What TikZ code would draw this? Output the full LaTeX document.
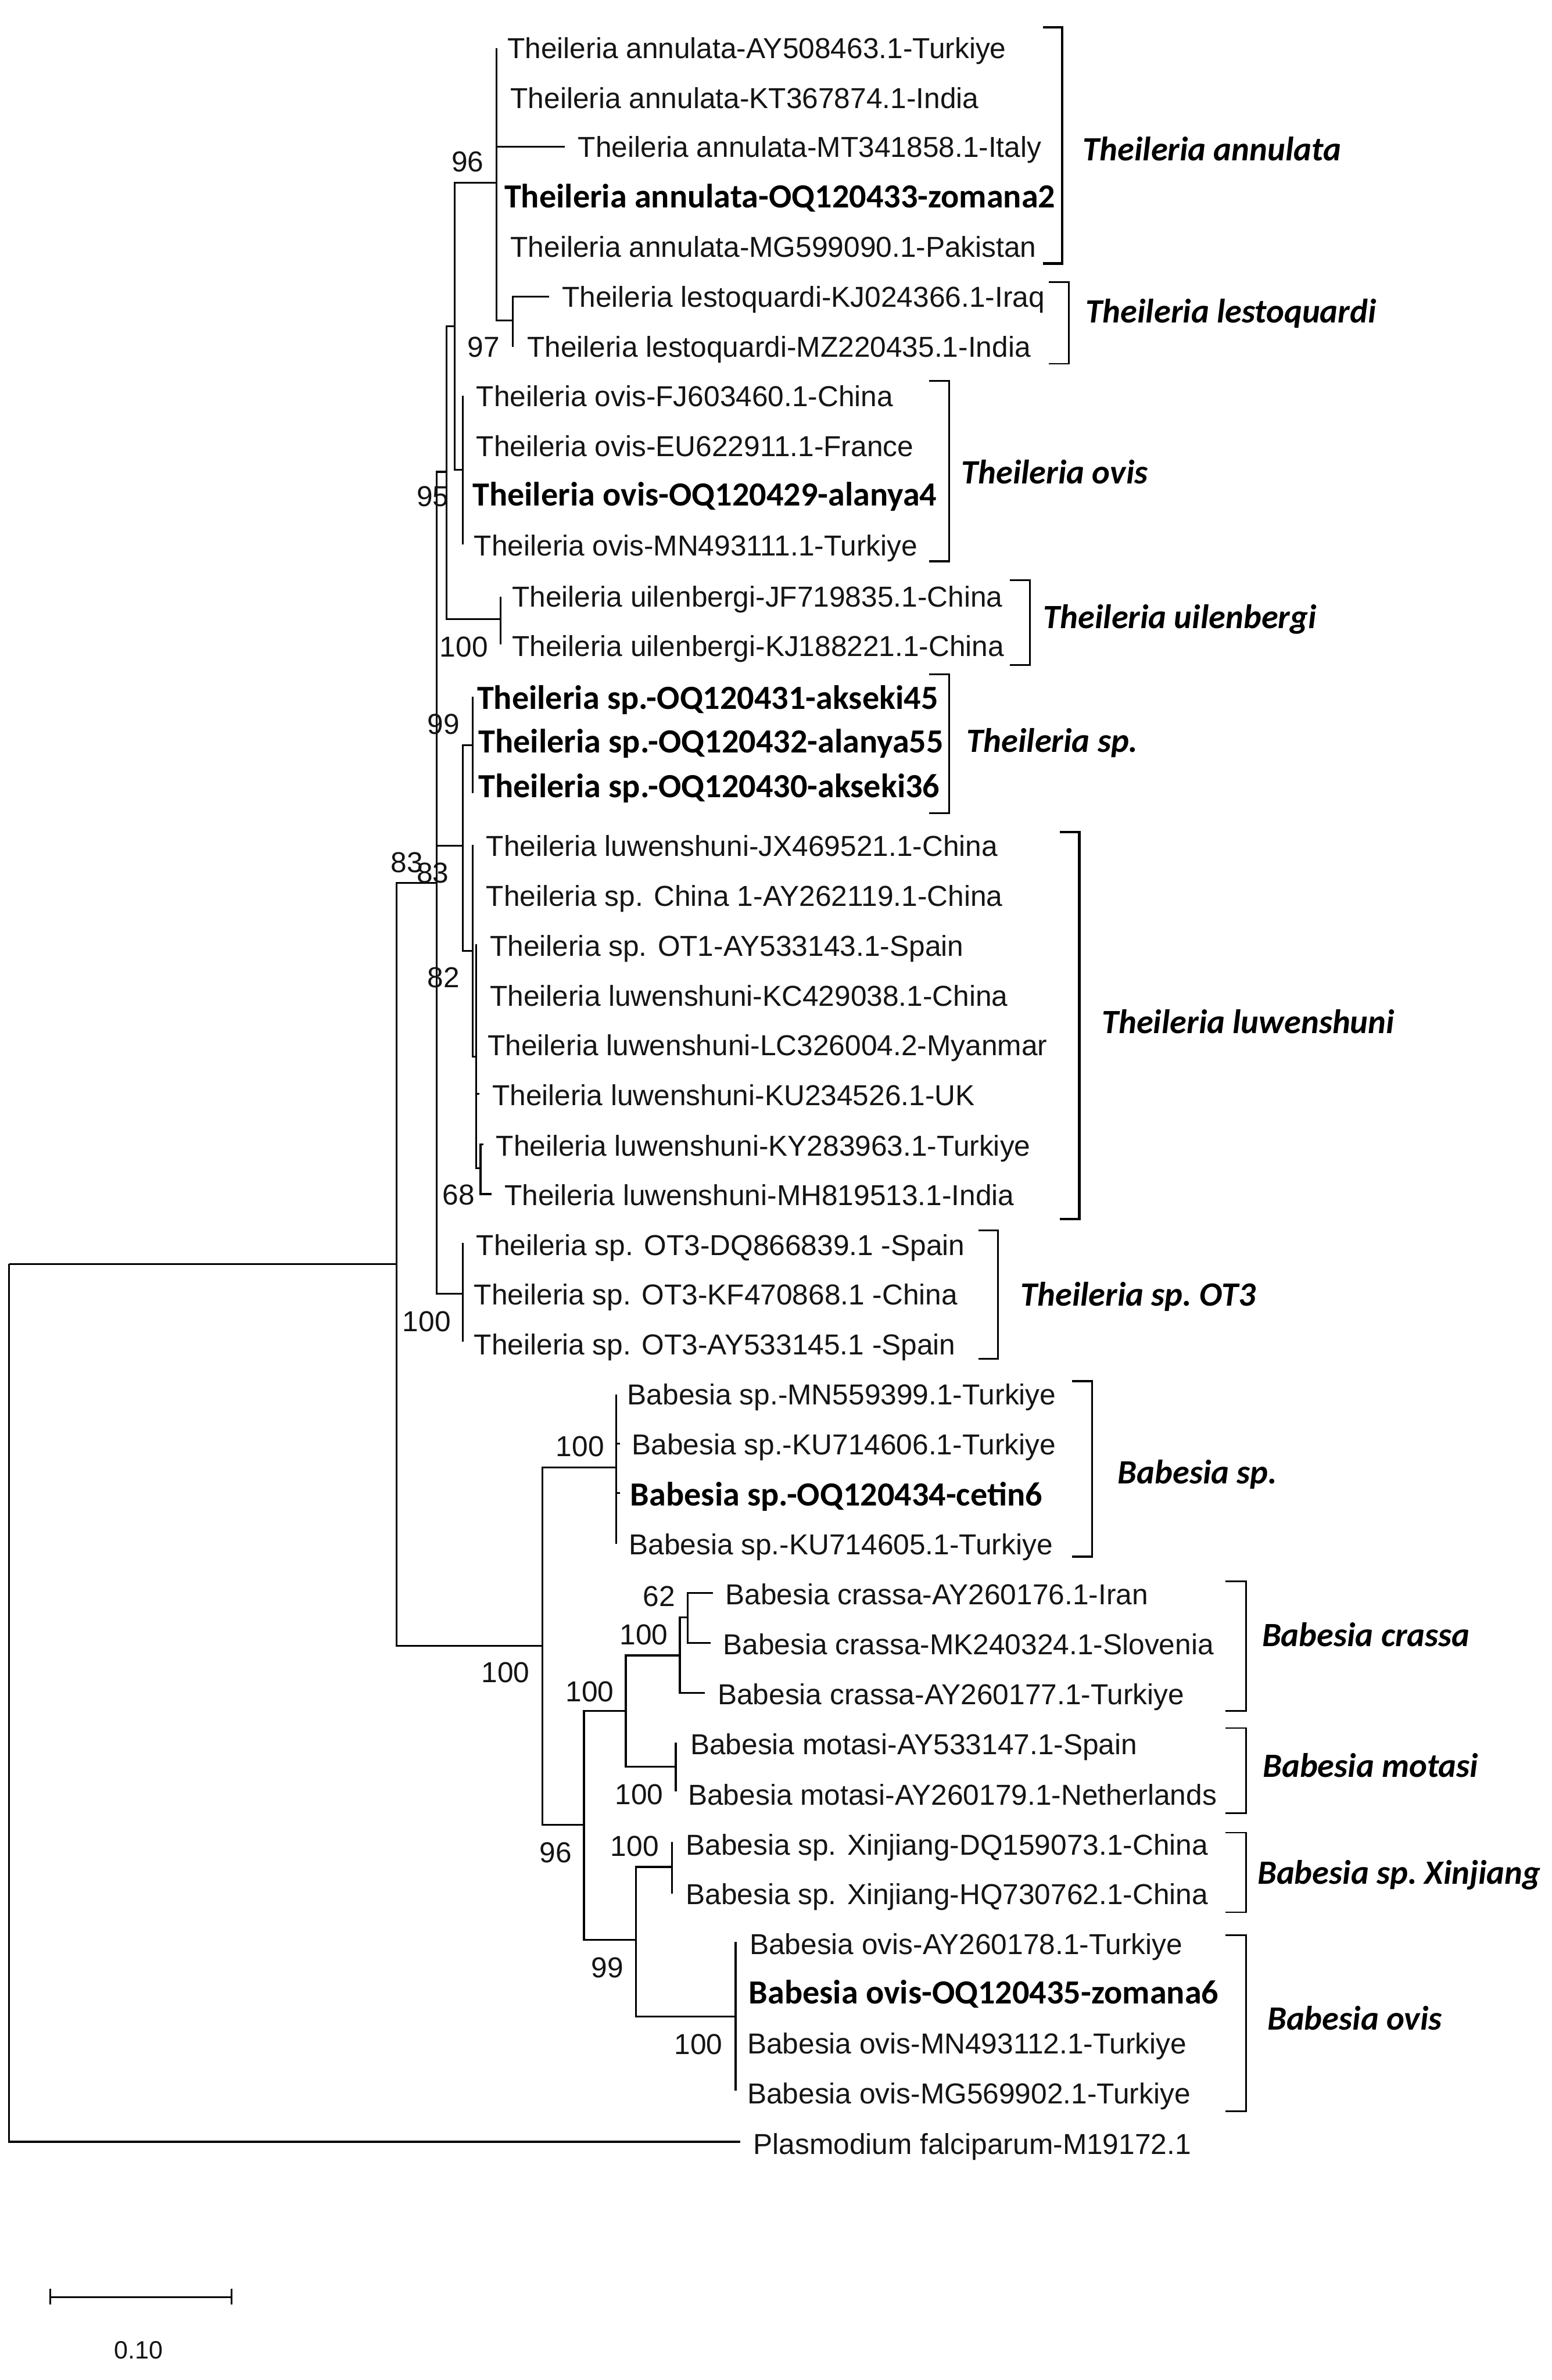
\documentclass[tikz,border=0pt]{standalone}
\usepackage{fontspec}
\setmainfont{Liberation Sans}
\newfontfamily\calib{Carlito}
\begin{document}
\begin{tikzpicture}[x=1pt,y=-1pt,
  edge/.style={draw=black,line width=1.25pt,line join=miter},
  leaf/.style={anchor=base west,inner sep=0pt,yshift=-6.7pt,text=black!92,font=\fontsize{19}{22}\selectfont},
  boldleaf/.style={anchor=base west,inner sep=0pt,yshift=-7.2pt,text=black,font=\calib\bfseries\fontsize{22.27}{26}\selectfont},
  grouplabel/.style={anchor=base west,inner sep=0pt,yshift=-7pt,text=black,font=\frenchspacing\calib\bfseries\itshape\fontsize{22.4}{26}\selectfont},
  support/.style={anchor=center,inner sep=0pt,text=black!92,font=\fontsize{19}{22}\selectfont},
  bracket/.style={draw=black,line width=#1,line join=miter},
  bracket/.default=1.1pt]
\useasboundingbox (0,0) rectangle (1022,1567.5);
% internal tree nodes
\coordinate (r) at (6,832.4);
\coordinate (A) at (261.3,832.4);
\coordinate (T) at (287.7,581.6);
\coordinate (TA) at (294.2,310.7);
\coordinate (TB) at (299.5,215);
\coordinate (An) at (327.1,120.4);
\coordinate (Les) at (337.6,211.1);
\coordinate (Ov) at (304.7,309.5);
\coordinate (Uil) at (329.6,407.8);
\coordinate (TC) at (304.7,557.1);
\coordinate (Tsa) at (311.3,490.8);
\coordinate (Lu) at (311.3,626.3);
\coordinate (LuB) at (313.6,695.9);
\coordinate (LuC) at (316.5,769.5);
\coordinate (Ot) at (304.7,852);
\coordinate (B) at (357.3,1083.9);
\coordinate (Bsp) at (405.8,966.5);
\coordinate (C) at (384.6,1201.7);
\coordinate (D) at (412.2,1126.9);
\coordinate (F) at (447.7,1090.3);
\coordinate (G) at (453,1065.1);
\coordinate (Mo) at (445.1,1163.5);
\coordinate (E) at (418.8,1277.6);
\coordinate (Xi) at (442.6,1229.6);
\coordinate (Bo) at (484.5,1328);
% branch tips
\coordinate (e1) at (327.1,31.6);
\coordinate (e3) at (372,96.7);
\coordinate (e6) at (361.6,195.4);
\coordinate (e7) at (337.6,228.3);
\coordinate (e8) at (304.7,260.6);
\coordinate (e11) at (304.7,358.5);
\coordinate (e12) at (329.6,393);
\coordinate (e13) at (329.6,424.3);
\coordinate (e14) at (311.3,458.8);
\coordinate (e16) at (311.3,522.3);
\coordinate (e17) at (311.3,556.4);
\coordinate (e19) at (313.6,622);
\coordinate (e22) at (315.9,720.4);
\coordinate (e23) at (318.3,753.6);
\coordinate (e24) at (323.6,786.4);
\coordinate (e25) at (304.7,818.7);
\coordinate (e27) at (304.7,883.8);
\coordinate (e28) at (405.8,918.6);
\coordinate (e29) at (408.2,950.7);
\coordinate (e30) at (408.2,983.4);
\coordinate (e31) at (405.8,1016.7);
\coordinate (e32) at (469.4,1049);
\coordinate (e33) at (468.1,1082);
\coordinate (e34) at (464.1,1115);
\coordinate (e35) at (445.1,1147.6);
\coordinate (e36) at (445.1,1180);
\coordinate (e37) at (442.6,1213);
\coordinate (e38) at (442.6,1247);
\coordinate (e39) at (484.5,1279);
\coordinate (e42) at (484.5,1377);
\coordinate (e43) at (487.7,1410.6);
% branches
\draw[edge] (r) |- (A);
\draw[edge] (r) |- (e43);
\draw[edge] (A) |- (T);
\draw[edge] (A) |- (B);
\draw[edge] (T) |- (TA);
\draw[edge] (T) |- (TC);
\draw[edge] (T) |- (Ot);
\draw[edge] (TA) |- (TB);
\draw[edge] (TA) |- (Uil);
\draw[edge] (TB) |- (An);
\draw[edge] (TB) |- (Ov);
\draw[edge] (An) |- (e1);
\draw[edge] (An) |- (e3);
\draw[edge] (An) |- (Les);
\draw[edge] (Les) |- (e6);
\draw[edge] (Les) |- (e7);
\draw[edge] (Ov) |- (e8);
\draw[edge] (Ov) |- (e11);
\draw[edge] (Uil) |- (e12);
\draw[edge] (Uil) |- (e13);
\draw[edge] (TC) |- (Tsa);
\draw[edge] (TC) |- (Lu);
\draw[edge] (Tsa) |- (e14);
\draw[edge] (Tsa) |- (e16);
\draw[edge] (Lu) |- (e17);
\draw[edge] (Lu) |- (LuB);
\draw[edge] (LuB) |- (e19);
\draw[edge] (LuB) |- (e22);
\draw[edge] (LuB) |- (LuC);
\draw[edge] (LuC) |- (e23);
\draw[edge] (LuC) |- (e24);
\draw[edge] (Ot) |- (e25);
\draw[edge] (Ot) |- (e27);
\draw[edge] (B) |- (Bsp);
\draw[edge] (B) |- (C);
\draw[edge] (Bsp) |- (e28);
\draw[edge] (Bsp) |- (e29);
\draw[edge] (Bsp) |- (e30);
\draw[edge] (Bsp) |- (e31);
\draw[edge] (C) |- (D);
\draw[edge] (C) |- (E);
\draw[edge] (D) |- (F);
\draw[edge] (D) |- (Mo);
\draw[edge] (F) |- (G);
\draw[edge] (F) |- (e34);
\draw[edge] (G) |- (e32);
\draw[edge] (G) |- (e33);
\draw[edge] (Mo) |- (e35);
\draw[edge] (Mo) |- (e36);
\draw[edge] (E) |- (Xi);
\draw[edge] (E) |- (Bo);
\draw[edge] (Xi) |- (e37);
\draw[edge] (Xi) |- (e38);
\draw[edge] (Bo) |- (e39);
\draw[edge] (Bo) |- (e42);
% leaf labels
\node[leaf] (t1) at (334,31.6) {Theileria annulata-AY508463.1-Turkiye};
\node[leaf] (t2) at (336,64.5) {Theileria annulata-KT367874.1-India};
\node[leaf] (t3) at (380.5,97) {Theileria annulata-MT341858.1-Italy};
\node[boldleaf] (t4) at (332,129.8) {Theileria annulata-OQ120433-zomana2};
\node[leaf] (t5) at (336,162.5) {Theileria annulata-MG599090.1-Pakistan};
\node[leaf] (t6) at (370,195.5) {Theileria lestoquardi-KJ024366.1-Iraq};
\node[leaf] (t7) at (347,228.5) {Theileria lestoquardi-MZ220435.1-India};
\node[leaf] (t8) at (313.5,261) {Theileria ovis-FJ603460.1-China};
\node[leaf] (t9) at (313.5,294) {Theileria ovis-EU622911.1-France};
\node[boldleaf] (t10) at (311,326) {Theileria ovis-OQ120429-alanya4};
\node[leaf] (t11) at (312,359.5) {Theileria ovis-MN493111.1-Turkiye};
\node[leaf] (t12) at (337,393) {Theileria uilenbergi-JF719835.1-China};
\node[leaf] (t13) at (337,425.5) {Theileria uilenbergi-KJ188221.1-China};
\node[boldleaf] (t14) at (314,460) {Theileria sp.-OQ120431-akseki45};
\node[boldleaf] (t15) at (315,488.5) {Theileria sp.-OQ120432-alanya55};
\node[boldleaf] (t16) at (315,518) {Theileria sp.-OQ120430-akseki36};
\node[leaf] (t17) at (320,557) {Theileria luwenshuni-JX469521.1-China};
\node[leaf] (t18) at (320,590) {Theileria sp. China 1-AY262119.1-China};
\node[leaf] (t19) at (322.5,623) {Theileria sp. OT1-AY533143.1-Spain};
\node[leaf] (t20) at (322.5,656) {Theileria luwenshuni-KC429038.1-China};
\node[leaf] (t21) at (321,688.5) {Theileria luwenshuni-LC326004.2-Myanmar};
\node[leaf] (t22) at (324,721.5) {Theileria luwenshuni-KU234526.1-UK};
\node[leaf] (t23) at (326.5,754.5) {Theileria luwenshuni-KY283963.1-Turkiye};
\node[leaf] (t24) at (332,787) {Theileria luwenshuni-MH819513.1-India};
\node[leaf] (t25) at (313.5,820) {Theileria sp. OT3-DQ866839.1 -Spain};
\node[leaf] (t26) at (312,852.5) {Theileria sp. OT3-KF470868.1 -China};
\node[leaf] (t27) at (312,885.5) {Theileria sp. OT3-AY533145.1 -Spain};
\node[leaf] (t28) at (413,918.5) {Babesia sp.-MN559399.1-Turkiye};
\node[leaf] (t29) at (416,951.5) {Babesia sp.-KU714606.1-Turkiye};
\node[boldleaf] (t30) at (415,984.5) {Babesia sp.-OQ120434-cetin6};
\node[leaf] (t31) at (414,1017) {Babesia sp.-KU714605.1-Turkiye};
\node[leaf] (t32) at (477.5,1050) {Babesia crassa-AY260176.1-Iran};
\node[leaf] (t33) at (476,1083) {Babesia crassa-MK240324.1-Slovenia};
\node[leaf] (t34) at (472.5,1116) {Babesia crassa-AY260177.1-Turkiye};
\node[leaf] (t35) at (454.5,1149) {Babesia motasi-AY533147.1-Spain};
\node[leaf] (t36) at (453,1182) {Babesia motasi-AY260179.1-Netherlands};
\node[leaf] (t37) at (451.5,1215) {Babesia sp. Xinjiang-DQ159073.1-China};
\node[leaf] (t38) at (451.5,1247.5) {Babesia sp. Xinjiang-HQ730762.1-China};
\node[leaf] (t39) at (493.5,1280.5) {Babesia ovis-AY260178.1-Turkiye};
\node[boldleaf] (t40) at (493,1312.5) {Babesia ovis-OQ120435-zomana6};
\node[leaf] (t41) at (492,1346) {Babesia ovis-MN493112.1-Turkiye};
\node[leaf] (t42) at (492,1379) {Babesia ovis-MG569902.1-Turkiye};
\node[leaf] (t43) at (496,1412) {Plasmodium falciparum-M19172.1};
% support values
\node[support] (s1) at (308,106.5) {96};
\node[support] (s2) at (318.5,228.5) {97};
\node[support] (s3) at (285,327) {95};
\node[support] (s4) at (305.5,426) {100};
\node[support] (s5) at (292,477) {99};
\node[support] (s6) at (268,568) {83};
\node[support] (s7) at (285,575) {83};
\node[support] (s8) at (292,644) {82};
\node[support] (s9) at (302,787) {68};
\node[support] (s10) at (281,870.5) {100};
\node[support] (s11) at (382,952.5) {100};
\node[support] (s12) at (434,1051.5) {62};
\node[support] (s13) at (424,1076.5) {100};
\node[support] (s14) at (333,1101.5) {100};
\node[support] (s15) at (388.5,1114) {100};
\node[support] (s16) at (366,1220) {96};
\node[support] (s17) at (421,1182) {100};
\node[support] (s18) at (418,1216) {100};
\node[support] (s19) at (400,1296) {99};
\node[support] (s20) at (460,1346.5) {100};
% clade brackets
\draw[bracket=1.7pt] (687,18) -- (699.6,18) -- (699.6,173.6) -- (687,173.6);
\draw[bracket=0.9pt] (690.6,185.8) -- (704,185.8) -- (704,239.6) -- (690.6,239.6);
\draw[bracket=1.3pt] (612,250.9) -- (625,250.9) -- (625,369.7) -- (612,369.7);
\draw[bracket=1.0pt] (665,382) -- (678.3,382) -- (678.3,438) -- (665,438);
\draw[bracket=1.3pt] (612,444) -- (625,444) -- (625,535.5) -- (612,535.5);
\draw[bracket=1.7pt] (698.2,548) -- (710.8,548) -- (710.8,802.9) -- (698.2,802.9);
\draw[bracket=1.1pt] (644.3,810.2) -- (657.1,810.2) -- (657.1,895) -- (644.3,895);
\draw[bracket=1.3pt] (706,909.7) -- (719.2,909.7) -- (719.2,1025.2) -- (706,1025.2);
\draw[bracket=1.0pt] (807.2,1041.4) -- (820.6,1041.4) -- (820.6,1126.9) -- (807.2,1126.9);
\draw[bracket=0.9pt] (807.2,1138) -- (820.6,1138) -- (820.6,1194.2) -- (807.2,1194.2);
\draw[bracket=0.9pt] (807.2,1207.1) -- (820.6,1207.1) -- (820.6,1259.3) -- (807.2,1259.3);
\draw[bracket=1.2pt] (807.2,1274.4) -- (820.6,1274.4) -- (820.6,1390.5) -- (807.2,1390.5);
% clade names
\node[grouplabel] (g1) at (713,99) {Theileria annulata};
\node[grouplabel] (g2) at (715,205.5) {Theileria lestoquardi};
\node[grouplabel] (g3) at (633,311.5) {Theileria ovis};
\node[grouplabel] (g4) at (687,407) {Theileria uilenbergi};
\node[grouplabel] (g5) at (636.5,488.5) {Theileria sp.};
\node[grouplabel] (g6) at (725.5,673.5) {Theileria luwenshuni};
\node[grouplabel] (g7) at (672,853) {Theileria sp. OT3};
\node[grouplabel] (g8) at (736,970) {Babesia sp.};
\node[grouplabel] (g9) at (831,1077.5) {Babesia crassa};
\node[grouplabel] (g10) at (831.5,1163.5) {Babesia motasi};
\node[grouplabel] (g11) at (828,1234) {Babesia sp. Xinjiang};
\node[grouplabel] (g12) at (834.5,1330) {Babesia ovis};
% scale bar
\coordinate (sbl) at (33,1513);
\coordinate (sbr) at (152.5,1513);
\coordinate (sblt) at (33,1507.3);
\coordinate (sblb) at (33,1517.7);
\coordinate (sbrt) at (152.5,1507.3);
\coordinate (sbrb) at (152.5,1517.7);
\draw[edge] (sbl) -- (sbr);
\draw[edge] (sblt) -- (sblb);
\draw[edge] (sbrt) -- (sbrb);
\node[anchor=center,inner sep=0pt,text=black!92,font=\fontsize{16.5}{20}\selectfont] (sbt) at (91.3,1548) {0.10};
\end{tikzpicture}
\end{document}
